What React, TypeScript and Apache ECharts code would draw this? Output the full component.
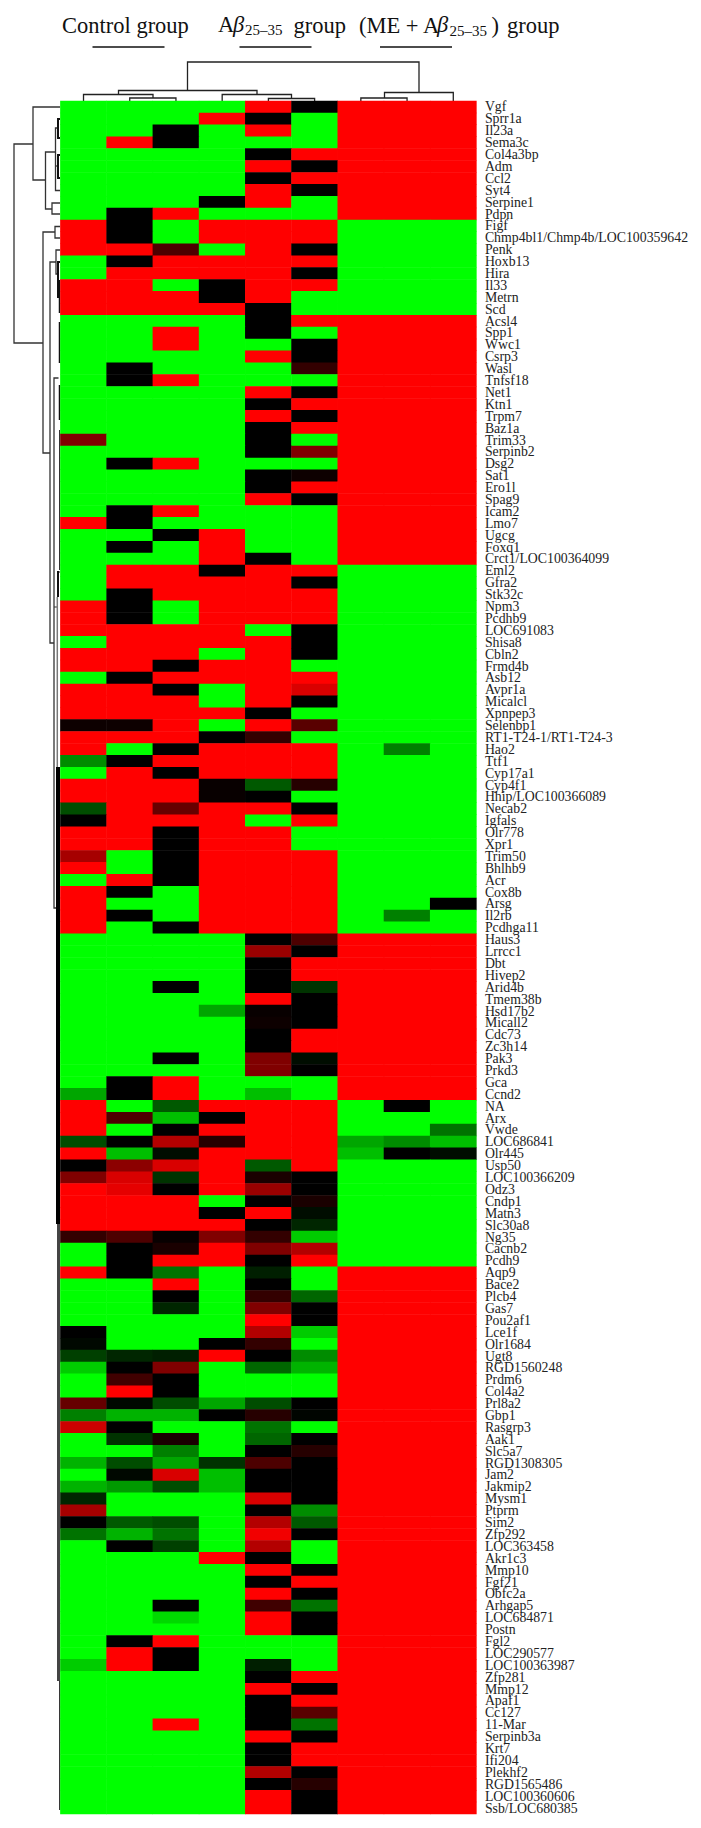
import React, { useEffect, useRef } from "react";
import * as echarts from "echarts";

const genes = [
  "Vgf","Sprr1a","Il23a","Sema3c","Col4a3bp","Adm","Ccl2","Syt4","Serpine1","Pdpn",
  "Figf","Chmp4bl1/Chmp4b/LOC100359642","Penk","Hoxb13","Hira","Il33","Metrn","Scd",
  "Acsl4","Spp1","Wwc1","Csrp3","Wasl","Tnfsf18","Net1","Ktn1","Trpm7","Baz1a","Trim33","Serpinb2","Dsg2","Sat1","Ero1l","Spag9","Icam2","Lmo7","Ugcg","Foxq1","Crct1/LOC100364099",
  "Eml2","Gfra2","Stk32c","Npm3","Pcdhb9","LOC691083","Shisa8","Cbln2","Frmd4b","Asb12","Avpr1a","Micalcl","Xpnpep3","Selenbp1","RT1-T24-1/RT1-T24-3","Hao2","Ttf1","Cyp17a1","Cyp4f1","Hhip/LOC100366089","Necab2","Igfals","Olr778","Xpr1","Trim50","Bhlhb9","Acr","Cox8b","Arsg","Il2rb","Pcdhga11",
  "Haus3","Lrrcc1","Dbt","Hivep2","Arid4b","Tmem38b","Hsd17b2","Micall2","Cdc73","Zc3h14","Pak3","Prkd3","Gca","Ccnd2",
  "NA","Arx","Vwde","LOC686841","Olr445",
  "Usp50","LOC100366209","Odz3","Cndp1","Matn3","Slc30a8","Ng35","Cacnb2","Pcdh9",
  "Aqp9","Bace2","Plcb4","Gas7","Pou2af1","Lce1f","Olr1684","Ugt8","RGD1560248","Prdm6","Col4a2","Prl8a2","Gbp1","Rasgrp3","Aak1","Slc5a7","RGD1308305","Jam2","Jakmip2","Mysm1","Ptprm","Sim2","Zfp292","LOC363458","Akr1c3","Mmp10","Fgf21","Obfc2a","Arhgap5","LOC684871","Postn","Fgl2","LOC290577","LOC100363987","Zfp281","Mmp12","Apaf1","Cc127","11-Mar","Serpinb3a","Krt7","Ifi204","Plekhf2","RGD1565486","LOC100360606","Ssb/LOC680385",
];

const samples = ["C1","C2","C3","A1","A2","A3","M1","M2","M3"];

const R = 1, G = -1, K = 0;

const expression: number[][] = [
  [G,G,G,G,R,K,R,R,R],[G,G,G,R,K,G,R,R,R],[G,G,K,G,R,G,R,R,R],[G,R,K,G,G,G,R,R,R],[G,G,G,G,K,R,R,R,R],
  [G,G,G,G,R,K,R,R,R],[G,G,G,G,K,R,R,R,R],[G,G,G,G,R,K,R,R,R],[G,G,G,K,R,G,R,R,R],[G,K,R,G,G,G,R,R,R],
  [R,K,G,R,R,R,G,G,G],[R,K,G,R,R,R,G,G,G],[R,R,0.3,G,R,K,G,G,G],[G,K,R,R,R,R,G,G,G],[G,R,R,R,R,K,G,G,G],
  [R,R,G,K,R,R,G,G,G],[R,R,R,K,R,G,G,G,G],[R,R,R,R,K,G,G,G,G],
  [G,G,G,G,K,R,R,R,R],[G,G,R,G,K,G,R,R,R],[G,G,R,G,G,K,R,R,R],[G,G,G,G,R,K,R,R,R],[G,K,G,G,G,0.2,R,R,R],
  [G,K,R,G,G,G,R,R,R],[G,G,G,G,R,K,R,R,R],[G,G,G,G,K,R,R,R,R],[G,G,G,G,R,K,R,R,R],[G,G,G,G,K,R,R,R,R],
  [0.5,G,G,G,K,G,R,R,R],[G,G,G,G,K,0.5,R,R,R],[G,K,R,G,G,G,R,R,R],[G,G,G,G,K,0.05,R,R,R],[G,G,G,G,K,R,R,R,R],
  [G,G,G,G,R,K,R,R,R],[G,K,R,G,G,G,R,R,R],[R,K,G,G,G,G,R,R,R],[G,G,K,R,G,G,R,R,R],[G,K,G,R,G,G,R,R,R],[G,G,G,R,K,G,R,R,R],
  [G,R,R,K,R,R,G,G,G],[G,R,R,R,R,K,G,G,G],[G,K,R,R,R,R,G,G,G],[R,K,G,R,R,R,G,G,G],[R,K,G,R,R,R,G,G,G],
  [R,R,R,R,G,K,G,G,G],[G,R,R,R,R,K,G,G,G],[R,R,R,G,R,K,G,G,G],[R,R,K,R,R,G,G,G,G],[G,K,R,R,R,R,G,G,G],
  [R,R,K,G,R,0.85,G,G,G],[R,R,R,G,R,K,G,G,G],[R,R,R,R,K,G,G,G,G],[0.05,0.05,R,G,R,0.35,G,G,G],[R,R,R,K,0.2,G,G,G,G],
  [R,G,K,R,R,R,G,-0.5,G],[-0.55,K,R,R,R,R,G,G,G],[G,R,K,R,R,R,G,G,G],[R,R,R,0.03,-0.35,0.15,G,G,G],[R,R,R,0.03,K,G,G,G,G],
  [-0.3,R,0.4,R,R,K,G,G,G],[K,R,R,R,G,R,G,G,G],[R,R,K,R,R,G,G,G,G],[R,R,K,R,R,G,G,G,G],[0.65,G,K,R,R,R,G,G,G],
  [R,G,K,R,R,R,G,G,G],[G,R,K,R,R,R,G,G,G],[R,K,G,R,R,R,G,G,G],[R,G,G,R,R,R,G,G,K],[R,K,G,R,R,R,G,-0.5,G],[R,G,K,R,R,R,G,G,G],
  [G,G,G,G,K,0.3,R,R,R],[G,G,G,G,0.6,K,R,R,R],[G,G,G,G,K,R,R,R,R],[G,G,G,G,K,R,R,R,R],[G,G,K,G,K,-0.2,R,R,R],
  [G,G,G,G,R,K,R,R,R],[G,G,G,-0.65,0.03,K,R,R,R],[G,G,G,G,0.05,K,R,R,R],[G,G,G,G,K,R,R,R,R],[G,G,G,G,K,R,R,R,R],
  [G,G,K,G,0.5,-0.05,R,R,R],[G,G,G,G,0.5,K,R,R,R],[G,K,R,G,G,G,R,R,R],[-0.65,K,R,G,-0.75,G,R,R,R],
  [R,G,-0.35,R,R,R,G,K,G],[R,0.3,-0.75,K,R,R,G,G,G],[R,G,K,R,R,R,G,G,-0.45],[-0.3,K,0.7,0.15,R,R,-0.65,-0.55,-0.75],[R,-0.75,-0.05,R,R,R,-0.75,K,-0.05],
  [K,0.55,0.85,R,-0.35,R,G,G,G],[0.5,0.85,-0.2,R,0.1,K,G,G,G],[R,0.9,K,R,0.6,K,G,G,G],[R,R,R,G,K,0.1,G,G,G],[R,R,R,K,R,-0.05,G,G,G],
  [R,R,R,R,K,-0.15,G,G,G],[0.2,0.3,0.03,0.5,0.2,-0.8,G,G,G],[G,K,0.1,R,0.5,0.7,G,G,G],[G,K,R,R,K,R,G,G,G],
  [R,K,-0.45,G,-0.12,G,R,R,R],[G,G,R,G,K,G,R,R,R],[G,G,K,G,0.2,-0.4,R,R,R],[G,G,-0.15,G,0.5,K,R,R,R],[G,G,G,G,R,K,R,R,R],
  [K,G,G,G,0.7,-0.8,R,R,R],[-0.03,G,G,K,0.2,G,R,R,R],[-0.25,-0.15,-0.12,R,K,-0.55,R,R,R],[-0.8,K,0.5,G,-0.4,-0.7,R,R,R],[G,0.25,K,G,G,G,R,R,R],
  [G,R,K,G,G,G,R,R,R],[0.4,-0.03,-0.3,-0.65,-0.3,K,R,R,R],[-0.5,-0.7,-0.7,K,0.15,-0.02,R,R,R],[0.8,K,G,G,-0.45,G,R,R,R],[G,-0.2,0.1,G,-0.4,K,R,R,R],
  [G,G,-0.5,G,K,0.15,R,R,R],[-0.7,-0.3,-0.65,-0.2,0.3,K,R,R,R],[G,-0.03,0.85,-0.75,K,K,R,R,R],[-0.7,-0.6,-0.3,-0.75,K,K,R,R,R],[-0.15,G,G,G,0.85,K,R,R,R],
  [0.65,G,G,G,K,-0.55,R,R,R],[K,-0.35,-0.3,G,0.7,-0.35,R,R,R],[-0.45,-0.7,-0.45,G,0.95,K,R,R,R],[G,K,-0.25,G,0.7,G,R,R,R],[G,G,G,R,K,G,R,R,R],
  [G,G,G,G,R,K,R,R,R],[G,G,G,G,K,R,R,R,R],[G,G,G,G,R,K,R,R,R],[G,G,K,G,0.25,-0.45,R,R,R],[G,G,-0.85,G,R,K,R,R,R],
  [G,G,G,G,R,K,R,R,R],[G,K,R,G,G,G,R,R,R],[G,R,K,G,G,G,R,R,R],[-0.8,R,K,G,-0.12,G,R,R,R],[G,G,G,G,K,R,R,R,R],
  [G,G,G,G,R,K,R,R,R],[G,G,G,G,K,R,R,R,R],[G,G,G,G,K,0.35,R,R,R],[G,G,R,G,K,-0.45,R,R,R],[G,G,G,G,R,K,R,R,R],
  [G,G,G,G,K,R,R,R,R],[G,G,G,G,K,R,R,R,R],[G,G,G,G,0.7,K,R,R,R],[G,G,G,G,K,0.15,R,R,R],[G,G,G,G,R,K,R,R,R],[G,G,G,G,R,K,R,R,R],
];

const GRID = { left: 60.4, top: 101, width: 416, height: 1713 };
const colX = (i: number) => GRID.left + (GRID.width / samples.length) * (i + 0.5);
const HEAD = '"Liberation Serif", serif';

function headerTexts() {
  const t = (text: string, x: number, y: number, size: number, italic = false) => ({
    type: "text", x, y, silent: true,
    style: { text, fontFamily: HEAD, fontSize: size, fontStyle: italic ? "italic" : "normal", fill: "#111", verticalAlign: "top" },
  });
  return [
    t("Control group", 62, 14, 22.5),
    t("A", 218, 13, 22.5), t("β", 233, 13, 22.5, true), t("25–35", 245, 22, 15), t("group", 293.5, 14, 22.5),
    t("(ME + A", 359, 14, 22.5), t("β", 437, 13, 22.5, true), t("25–35", 449.5, 23, 15), t(")", 491.5, 14, 22.5), t("group", 507, 14, 22.5),
  ];
}

const stroke = (points: number[][], lineWidth: number, color: string) => ({
  type: "polyline", silent: true, shape: { points },
  style: { stroke: color, lineWidth, fill: "none" },
});

function topTree() {
  const c = "#222", w = 1.3, b = GRID.top;
  return [
    stroke([[colX(1), b], [colX(1), 98], [colX(2), 98], [colX(2), b]], w, c),
    stroke([[colX(0), b], [colX(0), 94.5], [153, 94.5], [153, 98]], w, c),
    stroke([[colX(4), b], [colX(4), 98.5], [colX(5), 98.5], [colX(5), b]], w, c),
    stroke([[colX(3), b], [colX(3), 94.5], [291.5, 94.5], [291.5, 98.5]], w, c),
    stroke([[118.5, 94.5], [118.5, 90.5], [257, 90.5], [257, 94.5]], w, c),
    stroke([[colX(6), b], [colX(6), 98], [colX(7), 98], [colX(7), b]], w, c),
    stroke([[384.5, 98], [384.5, 92.5], [colX(8), 92.5], [colX(8), b]], w, c),
    stroke([[187.5, 90.5], [187.5, 62], [419, 62], [419, 92.5]], w, c),
  ];
}

function leftTree() {
  const c = "#333", w = 1.3;
  return [
    stroke([[33, 144], [14, 144], [14, 343], [43, 343]], w, c),
    stroke([[60, 107], [33, 107], [33, 180], [45.5, 180]], w, c),
    stroke([[55.5, 152], [45.5, 152], [45.5, 209], [52, 209]], w, c),
    stroke([[60, 203], [52, 203], [52, 214], [60, 214]], w, c),
    stroke([[60, 190.5], [55.5, 190.5], [55.5, 128], [57.5, 128]], w, c),
    stroke([[60, 119], [58, 119], [58, 138], [60, 138]], 2, "#111"),
    stroke([[55.5, 166], [58, 166]], w, c),
    stroke([[60, 155], [58, 155], [58, 178], [60, 178]], 2, "#111"),
    stroke([[55, 232], [43, 232], [43, 453], [50, 453]], w, c),
    stroke([[60, 226.5], [55, 226.5], [55, 238], [60, 238]], w, c),
    stroke([[56, 262], [50, 262], [50, 643], [54, 643]], w, c),
    stroke([[60, 250], [56, 250], [56, 274], [58, 274]], w, c),
    stroke([[60, 262], [58, 262], [58, 297], [60, 297]], 2, "#111"),
    stroke([[59.5, 280], [59.5, 313]], 1.5, "#111"),
    stroke([[59.5, 322], [59.5, 363]], 1.5, "#111"),
    stroke([[59.5, 385], [59.5, 420]], 1.5, "#111"),
    stroke([[59.5, 430], [59.5, 570]], 1, "#333"),
    stroke([[58.5, 378], [54, 378], [54, 908], [56.5, 908]], w, c),
    stroke([[59.5, 572], [58, 572], [58, 597]], 2, "#111"),
    stroke([[54, 607], [58, 607]], 1, c),
    stroke([[57.3, 597], [57.3, 767]], 1.5, "#777"),
    stroke([[58, 767], [58, 1224]], 4, "#000"),
    stroke([[58.5, 1224], [58.5, 1681]], 3, "#444"),
    stroke([[59.7, 1681], [59.7, 1810]], 1.2, "#222"),
  ];
}

const underlines = [[92.5, 164.5], [239.5, 311.5], [380, 452]];

export default function App() {
  const ref = useRef<HTMLDivElement>(null);
  useEffect(() => {
    document.body.style.margin = "0";
    const chart = echarts.init(ref.current!, undefined, { renderer: "svg" });
    const data: number[][] = [];
    expression.forEach((row, y) => row.forEach((v, x) => data.push([x, y, v])));
    chart.setOption({
      animation: false,
      backgroundColor: "#ffffff",
      grid: { ...GRID, containLabel: false },
      tooltip: { show: false },
      xAxis: { type: "category", data: samples, show: false },
      yAxis: {
        type: "category", data: genes, inverse: true, position: "right",
        axisLine: { show: false }, axisTick: { show: false }, splitLine: { show: false },
        axisLabel: { interval: 0, margin: 8.5, fontFamily: HEAD, fontSize: 13.8, color: "#222" },
      },
      visualMap: {
        show: false, type: "continuous", min: -1, max: 1, dimension: 2, seriesIndex: 0,
        inRange: { color: ["#00ff00", "#000000", "#ff0000"] },
      },
      series: [{ type: "heatmap", data, silent: true, progressive: 0, emphasis: { disabled: true }, itemStyle: { borderWidth: 0 } }],
      graphic: [
        ...headerTexts(),
        ...underlines.map(([a, b]) => stroke([[a, 47], [b, 47]], 1.5, "#111")),
        ...topTree(),
        ...leftTree(),
      ],
    });
    return () => chart.dispose();
  }, []);
  return <div ref={ref} style={{ width: 701, height: 1828 }} />;
}
